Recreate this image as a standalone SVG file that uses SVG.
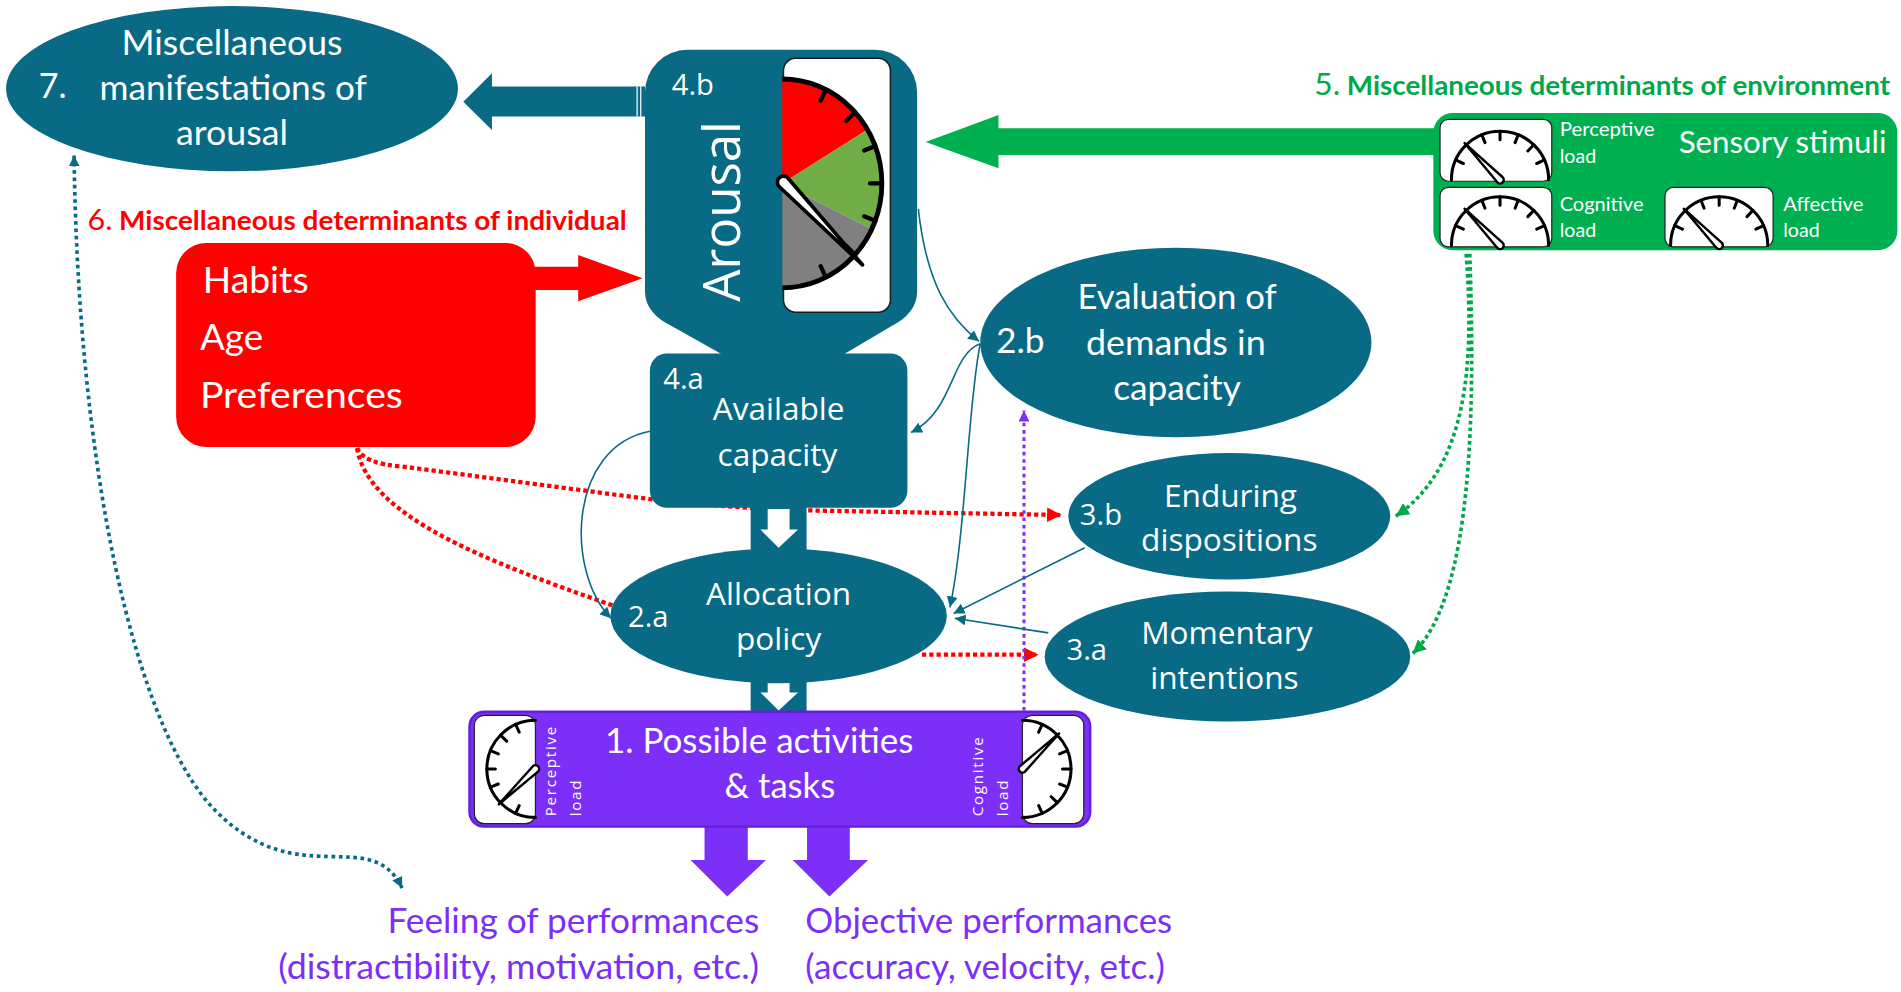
<svg xmlns="http://www.w3.org/2000/svg" xmlns:xlink="http://www.w3.org/1999/xlink" width="1901" height="992" viewBox="0 0 1901 992">
<style>
.teal{fill:#086a85}
.cal{font-family:Lato,"Liberation Sans",sans-serif}
.seg{font-family:"Open Sans","DejaVu Sans",sans-serif}
.w{fill:#ffffff}
.n26{font-size:26px}
.n28{font-size:28px}
.n24{font-size:24px}
.mid{text-anchor:middle}
.thin{fill:none;stroke:#086a85;stroke-width:1.3}
.dot-red{fill:none;stroke:#ff0000;stroke-width:3.5;stroke-dasharray:3.5 2.5}
.dot-teal{fill:none;stroke:#086a85;stroke-width:3;stroke-dasharray:3 3}
.dot-green{fill:none;stroke:#00a84a;stroke-width:3;stroke-dasharray:3 2.5}
.dot-purple{fill:none;stroke:#7b2ff7;stroke-width:2.5;stroke-dasharray:3 3}
.gaugebox{fill:#ffffff;stroke:#222222;stroke-width:1}
.blk{fill:none;stroke:#000000;stroke-width:2.5;stroke-linecap:round}
.pl{fill:#7b2ff7}
</style>
<defs>
<marker id="mTeal" viewBox="0 0 10 10" refX="10" refY="5" markerWidth="9" markerHeight="9" markerUnits="userSpaceOnUse" orient="auto-start-reverse"><path d="M0,0 L10,5 L0,10 z" fill="#086a85"/></marker>
<marker id="mRed" viewBox="0 0 10 10" refX="10" refY="5" markerWidth="12" markerHeight="13" markerUnits="userSpaceOnUse" orient="auto"><path d="M0,0 L10,5 L0,10 z" fill="#ff0000"/></marker>
<marker id="mGreen" viewBox="0 0 10 10" refX="10" refY="5" markerWidth="11" markerHeight="11" markerUnits="userSpaceOnUse" orient="auto"><path d="M0,0 L10,5 L0,10 z" fill="#00a84a"/></marker>
<marker id="mPurple" viewBox="0 0 10 10" refX="10" refY="5" markerWidth="9" markerHeight="9" markerUnits="userSpaceOnUse" orient="auto"><path d="M0,0 L10,5 L0,10 z" fill="#7b2ff7"/></marker>
<g id="dial">
<path class="blk" d="M-40,0 A40,40 0 0 1 40,0"/>
<path class="blk" d="M-36.6,-16.3 L-30.2,-13.4 M-27.8,-28.8 L-22.9,-23.7 M-15,-37.1 L-12.4,-30.6 M0,-40 L0,-33 M15,-37.1 L12.4,-30.6 M27.8,-28.8 L22.9,-23.7 M36.6,-16.3 L30.2,-13.4"/>
<path d="M2.2,-2.1 L-29.2,-30.2 L-2.2,2.1 A3,3 0 0 0 2.2,-2.1 Z" fill="#ffffff" stroke="#000000" stroke-width="2" stroke-linejoin="round"/>
</g>
</defs>
<rect width="1901" height="992" fill="#ffffff"/>
<g transform="scale(1.2147)">

<g id="connectors">
<path class="dot-teal" d="M61,128 C64,380 110,600 178,668 S305,678 331,731" marker-start="url(#mTeal)" marker-end="url(#mTeal)"/>
<path class="dot-red" d="M294,369 Q300,382 331,384 L520,409 Q600,419 680,420.5 L874,424" marker-end="url(#mRed)"/>
<path class="dot-red" d="M294,369 C303,425 400,462 506,499"/>
<path class="dot-red" d="M759,539 L855,539" marker-end="url(#mRed)"/>
<path class="dot-green" d="M1207,209 C1214,300 1208,385 1149,425" marker-end="url(#mGreen)"/>
<path class="dot-green" d="M1210,209 C1214,330 1214,490 1163,538" marker-end="url(#mGreen)"/>
<path class="dot-purple" d="M843,585 L843,338" marker-end="url(#mPurple)"/>
<path class="thin" d="M756,172 C763,235 782,262 806,281" marker-end="url(#mTeal)"/>
<path class="thin" d="M807,283 C782,292 786,338 750,356" marker-end="url(#mTeal)"/>
<path class="thin" d="M807,283 C797,330 795,440 782,500" marker-end="url(#mTeal)"/>
<path class="thin" d="M893,451 L785,505" marker-end="url(#mTeal)"/>
<path class="thin" d="M863,521 L786,509" marker-end="url(#mTeal)"/>
<path class="thin" d="M535,355 C468,368 465,470 503,509" marker-end="url(#mTeal)"/>
<polygon class="teal" points="531,71.3 405,71.3 405,60.4 381.4,83.7 405,107 405,96 531,96"/>
<line x1="524.5" y1="71.3" x2="524.5" y2="96" stroke="#ffffff" stroke-width="1"/>
<line x1="527.5" y1="71.3" x2="527.5" y2="96" stroke="#ffffff" stroke-width="1"/>
<polygon fill="#ff0000" points="440,219.5 476,219.5 476,210 529,229 476,248 476,238.7 440,238.7"/>
<polygon fill="#00b050" points="1182,105.6 822,105.6 822,94.7 762,117 822,138.5 822,127.6 1182,127.6"/>
<rect class="teal" x="618" y="416" width="46" height="40"/>
<polygon fill="#ffffff" points="632,419 650,419 650,436 657,436 641,451 626,436 632,436"/>
<rect class="teal" x="618" y="552" width="46" height="36"/>
<polygon fill="#ffffff" points="632,561 650,561 650,570 657,570 641,585 626,570 632,570"/>
<polygon class="pl" points="580,679 615.6,679 615.6,708 630.6,708 598.7,738 568.5,708 580,708"/>
<polygon class="pl" points="664.4,679 699.6,679 699.6,708 714.7,708 682.8,738 652.6,708 664.4,708"/>
</g>

<g id="node7">
<ellipse class="teal" cx="191" cy="73" rx="186" ry="68"/>
<g class="cal w n28">
<text x="191" y="45" class="mid" textLength="182" lengthAdjust="spacingAndGlyphs">Miscellaneous</text>
<text x="32" y="81">7.</text>
<text x="192" y="82" class="mid" textLength="220" lengthAdjust="spacingAndGlyphs">manifestations of</text>
<text x="191" y="119" class="mid" textLength="92" lengthAdjust="spacingAndGlyphs">arousal</text>
</g>
</g>

<g id="node4b">
<path class="teal" d="M566,41 H720 A35,35 0 0 1 755,76 V240 Q755,258 733,269 L694,292 H595 L554,269 Q531,258 531,240 V76 A35,35 0 0 1 566,41 Z"/>
<rect x="645" y="48" width="88" height="209" rx="10" fill="#ffffff" stroke="#1a1a1a" stroke-width="1.2"/>
<path d="M644,151 L644,65 A82,86 0 0 1 714.3,106.7 Z" fill="#ff0000"/>
<path d="M644,151 L714.3,106.7 A82,86 0 0 1 717.7,188.7 Z" fill="#70ad47"/>
<path d="M644,151 L717.7,188.7 A82,86 0 0 1 644,237 Z" fill="#808080"/>
<path d="M644,65 A82,86 0 0 1 644,237" fill="none" stroke="#000000" stroke-width="4"/>
<path d="M679.9,73.7 L675.6,82.9 M703.9,92.3 L696.8,99.4 M720.6,120.2 L711.4,123.9 M726,151 L716.2,151 M720.6,181.8 L711.4,178.1 M703.9,209.7 L696.8,202.6 M679.9,228.3 L675.6,219.1" stroke="#000000" stroke-width="3.5" stroke-linecap="round"/>
<path d="M648.6,146.5 L710,218 L641.4,153.5 A5,5 0 0 1 648.6,146.5 Z" fill="#ffffff" stroke="#000000" stroke-width="3" stroke-linejoin="round"/>
<text x="553" y="78" class="seg w n24">4.b</text>
<text transform="translate(609,174) rotate(-90)" class="seg w mid" font-size="42">Arousal</text>
</g>

<g id="node4a">
<rect class="teal" x="535" y="291" width="212" height="127" rx="14"/>
<text x="546" y="320" class="seg w n24">4.a</text>
<text x="641" y="346" class="seg w n26 mid">Available</text>
<text x="640" y="384" class="seg w n26 mid">capacity</text>
</g>

<g id="node2a">
<ellipse class="teal" cx="641" cy="507" rx="138.5" ry="55.5"/>
<text x="517" y="516" class="seg w n24">2.a</text>
<text x="641" y="498" class="seg w n26 mid">Allocation</text>
<text x="641" y="535" class="seg w n26 mid">policy</text>
</g>

<g id="node2b">
<ellipse class="teal" cx="968" cy="282" rx="161" ry="78"/>
<g class="cal w n28">
<text x="820" y="291" textLength="40" lengthAdjust="spacingAndGlyphs">2.b</text>
<text x="969" y="254" class="mid" textLength="164" lengthAdjust="spacingAndGlyphs">Evaluation of</text>
<text x="968" y="292" class="mid" textLength="148" lengthAdjust="spacingAndGlyphs">demands in</text>
<text x="969" y="329" class="mid" textLength="105" lengthAdjust="spacingAndGlyphs">capacity</text>
</g>
</g>

<g id="node3b">
<ellipse class="teal" cx="1012" cy="425" rx="132.5" ry="52"/>
<text x="889" y="432" class="seg w n24">3.b</text>
<text x="1013" y="417" class="seg w n26 mid">Enduring</text>
<text x="1012" y="454" class="seg w n26 mid">dispositions</text>
</g>

<g id="node3a">
<ellipse class="teal" cx="1010.5" cy="540.5" rx="150.5" ry="53.5"/>
<text x="878" y="543" class="seg w n24">3.a</text>
<text x="1010" y="530" class="seg w n26 mid">Momentary</text>
<text x="1008" y="567" class="seg w n26 mid">intentions</text>
</g>

<g id="node6">
<text x="72" y="189" class="cal" fill="#ff0000" font-size="22" textLength="444" lengthAdjust="spacingAndGlyphs"><tspan font-size="24">6.</tspan><tspan font-weight="bold"> Miscellaneous determinants of individual</tspan></text>
<rect x="145" y="200" width="296" height="168" rx="25" fill="#ff0000"/>
<g class="cal w" font-size="30">
<text x="167" y="241.5" textLength="87" lengthAdjust="spacingAndGlyphs">Habits</text>
<text x="164.6" y="288" textLength="52" lengthAdjust="spacingAndGlyphs">Age</text>
<text x="164.6" y="336" textLength="167" lengthAdjust="spacingAndGlyphs">Preferences</text>
</g>
</g>

<g id="node5">
<text x="1082" y="78" class="cal" fill="#00a84a" font-size="22" textLength="474" lengthAdjust="spacingAndGlyphs"><tspan font-size="25">5.</tspan><tspan font-weight="bold"> Miscellaneous determinants of environment</tspan></text>
<rect x="1180" y="93" width="382" height="113" rx="16" fill="#00b050"/>
<rect class="gaugebox" x="1185.5" y="98.2" width="92" height="51" rx="7"/>
<use xlink:href="#dial" href="#dial" transform="translate(1234.9,148)"/>
<rect class="gaugebox" x="1185.5" y="154.2" width="92" height="49" rx="7"/>
<use xlink:href="#dial" href="#dial" transform="translate(1234.9,202)"/>
<rect class="gaugebox" x="1370.7" y="154.2" width="89" height="49" rx="7"/>
<use xlink:href="#dial" href="#dial" transform="translate(1415.3,202)"/>
<g class="cal w" font-size="16.5">
<text x="1284" y="112" textLength="78" lengthAdjust="spacingAndGlyphs">Perceptive</text>
<text x="1284" y="134" textLength="30" lengthAdjust="spacingAndGlyphs">load</text>
<text x="1284" y="174" textLength="69" lengthAdjust="spacingAndGlyphs">Cognitive</text>
<text x="1284" y="195" textLength="30" lengthAdjust="spacingAndGlyphs">load</text>
<text x="1468" y="174" textLength="66" lengthAdjust="spacingAndGlyphs">Affective</text>
<text x="1468" y="195" textLength="30" lengthAdjust="spacingAndGlyphs">load</text>
</g>
<text x="1382" y="126" class="cal w" font-size="25.5" textLength="171" lengthAdjust="spacingAndGlyphs">Sensory stimuli</text>
</g>

<g id="node1">
<rect x="386.5" y="586" width="511" height="94.5" rx="12" fill="#7b2ff7" stroke="#6420d8" stroke-width="2"/>
<rect class="gaugebox" x="390.5" y="589" width="50.3" height="89" rx="8"/>
<use xlink:href="#dial" href="#dial" transform="translate(440.8,633) rotate(-90)"/>
<rect class="gaugebox" x="841.7" y="589" width="50.5" height="89" rx="8"/>
<use xlink:href="#dial" href="#dial" transform="translate(841.7,633) rotate(90)"/>
<g class="seg w" font-size="12.5" letter-spacing="1.4">
<text transform="translate(458,672) rotate(-90)">Perceptive</text>
<text transform="translate(478,672) rotate(-90)">load</text>
<text transform="translate(809,672) rotate(-90)">Cognitive</text>
<text transform="translate(829.5,672) rotate(-90)">load</text>
</g>
<text x="625" y="620" class="cal w n28 mid" textLength="254" lengthAdjust="spacingAndGlyphs">1. Possible activities</text>
<text x="642" y="657" class="cal w n28 mid" textLength="91" lengthAdjust="spacingAndGlyphs">&amp; tasks</text>
</g>

<g id="outputs" class="cal" font-size="29" fill="#7b2ff7">
<text x="625" y="768" text-anchor="end" textLength="306" lengthAdjust="spacingAndGlyphs">Feeling of performances</text>
<text x="625" y="806" text-anchor="end" textLength="396" lengthAdjust="spacingAndGlyphs">(distractibility, motivation, etc.)</text>
<text x="663" y="768" textLength="302" lengthAdjust="spacingAndGlyphs">Objective performances</text>
<text x="663" y="806" textLength="296" lengthAdjust="spacingAndGlyphs">(accuracy, velocity, etc.)</text>
</g>

</g>
</svg>
